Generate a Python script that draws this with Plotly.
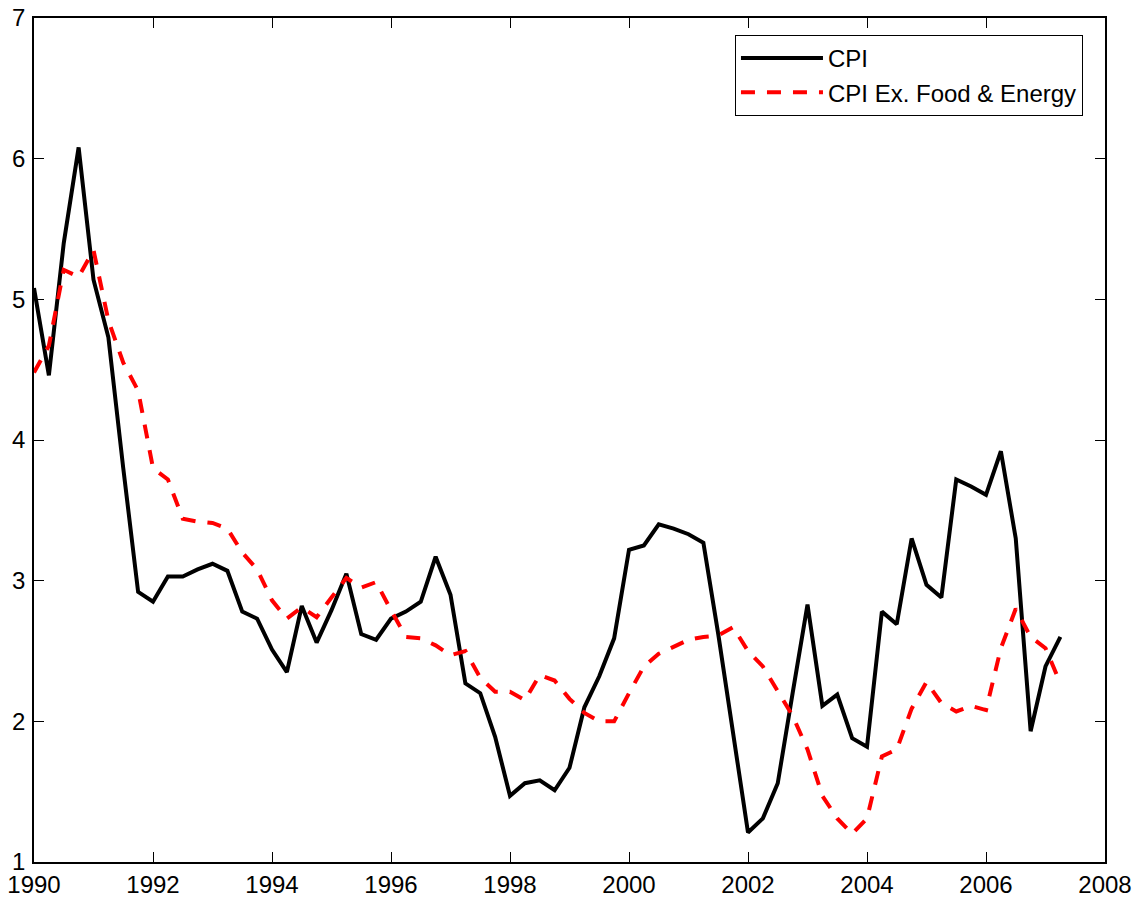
import plotly.graph_objects as go

start_year = 1990
quarters_per_year = 4

cpi = [5.08, 4.46, 5.40, 6.08, 5.14, 4.73, 3.80, 2.92,
       2.85, 3.03, 3.03, 3.08, 3.12, 3.07, 2.78, 2.73,
       2.51, 2.35, 2.82, 2.56, 2.79, 3.05, 2.62, 2.58,
       2.73, 2.78, 2.85, 3.17, 2.90, 2.27, 2.20, 1.89,
       1.47, 1.56, 1.58, 1.51, 1.67, 2.10, 2.32, 2.59,
       3.22, 3.25, 3.40, 3.37, 3.33, 3.27, 2.62, 1.92,
       1.21, 1.31, 1.56, 2.20, 2.83, 2.11, 2.19, 1.88,
       1.82, 2.78, 2.69, 3.30, 2.97, 2.88, 3.72, 3.67,
       3.61, 3.92, 3.30, 1.93, 2.39, 2.60]

core = [4.48, 4.67, 5.21, 5.16, 5.35, 4.85, 4.55, 4.35,
        3.80, 3.72, 3.44, 3.42, 3.41, 3.37, 3.20, 3.08,
        2.86, 2.73, 2.81, 2.74, 2.88, 3.02, 2.95, 2.99,
        2.79, 2.60, 2.59, 2.54, 2.47, 2.50, 2.31, 2.21,
        2.21, 2.15, 2.33, 2.29, 2.16, 2.06, 2.00, 2.00,
        2.20, 2.39, 2.48, 2.53, 2.58, 2.60, 2.61, 2.67,
        2.50, 2.39, 2.21, 2.04, 1.80, 1.47, 1.31, 1.20,
        1.31, 1.75, 1.80, 2.09, 2.28, 2.13, 2.07, 2.11,
        2.08, 2.52, 2.80, 2.60, 2.52, 2.27]

x_ticks = [1990, 1992, 1994, 1996, 1998, 2000, 2002, 2004, 2006, 2008]
y_ticks = [1, 2, 3, 4, 5, 6, 7]

dates = [start_year + i / quarters_per_year for i in range(len(cpi))]

fig = go.Figure()
fig.add_trace(go.Scatter(x=dates, y=cpi, mode="lines", name="CPI",
                         line=dict(color="black", width=4)))
fig.add_trace(go.Scatter(x=dates, y=core, mode="lines",
                         name="CPI Ex. Food &amp; Energy",
                         line=dict(color="#ff0000", width=4, dash="14px,12px")))

axis_common = dict(showgrid=False, zeroline=False, showline=True,
                   linecolor="black", linewidth=1.5, mirror="ticks",
                   ticks="inside", ticklen=10, tickwidth=1, tickcolor="black",
                   automargin=False, ticklabeloverflow="allow",
                   tickfont=dict(family="Liberation Sans, Arial", size=24, color="black"))

fig.update_xaxes(range=[1990, 2008], tickvals=x_ticks,
                 ticktext=[str(v) for v in x_ticks], ticklabelstandoff=0,
                 **axis_common)
fig.update_yaxes(range=[1, 7], tickvals=y_ticks,
                 ticktext=[str(v) for v in y_ticks], ticklabelstandoff=2,
                 **axis_common)

# the page body adds an 8px margin, so the figure is sized to end at the window edge
fig.update_layout(
    width=1136, height=895,
    margin=dict(l=26, r=39, t=10, b=41, autoexpand=False),
    plot_bgcolor="white", paper_bgcolor="white",
    font=dict(family="Liberation Sans, Arial", size=24, color="black"),
    legend=dict(x=0.6545, y=0.98, xanchor="left", yanchor="top",
                bordercolor="black", borderwidth=1, bgcolor="white",
                font=dict(size=24), tracegroupgap=0, itemwidth=82),
)

fig.write_html("out.html")
